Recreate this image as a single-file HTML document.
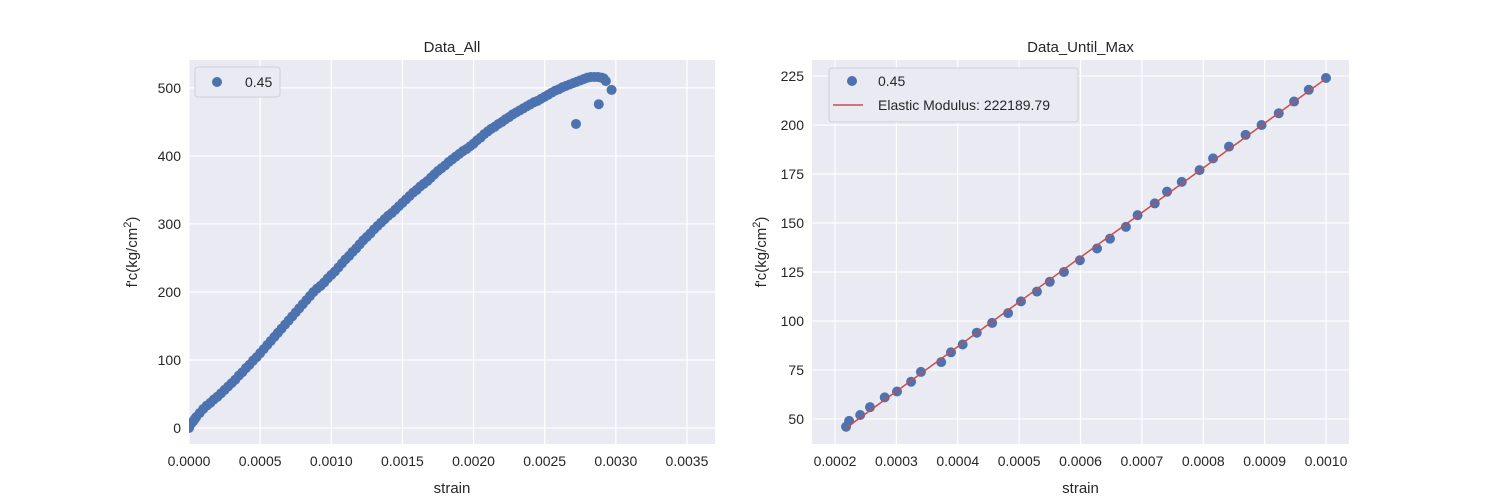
<!DOCTYPE html>
<html><head><meta charset="utf-8"><style>
body{margin:0;background:#fff;}
svg{display:block;font-family:"Liberation Sans","Noto Sans CJK TC",sans-serif;}
</style></head><body>
<svg id="fig" width="1500" height="500"></svg>
<script>
const allStrain=[0,0.00001,0.00002,0.00003,0.00004,0.00005,0.000075,0.0001,0.000125,0.00015,0.000175,0.0002,0.000225,0.00025,0.000275,0.0003,0.000325,0.00035,0.000375,0.0004,0.000425,0.00045,0.000475,0.0005,0.000525,0.00055,0.000575,0.0006,0.000625,0.00065,0.000675,0.0007,0.000725,0.00075,0.000775,0.0008,0.000825,0.00085,0.000875,0.0009,0.000925,0.00095,0.000975,0.001,0.001025,0.00105,0.001075,0.0011,0.001125,0.00115,0.001175,0.0012,0.001225,0.00125,0.001275,0.0013,0.001325,0.00135,0.001375,0.0014,0.001425,0.00145,0.001475,0.0015,0.001525,0.00155,0.001575,0.0016,0.001625,0.00165,0.001675,0.0017,0.001725,0.00175,0.001775,0.0018,0.001825,0.00185,0.001875,0.0019,0.001925,0.00195,0.001975,0.002,0.002025,0.00205,0.002075,0.0021,0.002125,0.00215,0.002175,0.0022,0.002225,0.00225,0.002275,0.0023,0.002325,0.00235,0.002375,0.0024,0.002425,0.00245,0.002475,0.0025,0.002525,0.00255,0.002575,0.0026,0.002625,0.00265,0.002675,0.0027,0.002725,0.00275,0.002775,0.0028,0.002825,0.00285,0.002875,0.0029,0.002915,0.00293,0.00297,0.00272,0.00288];
const allStress=[0,5,8,10,13,16,22,28,33,37,42,46,51,56,61,66,71,77,82,88,93,99,104,110,116,122,128,134,140,146,152,158,164,170,176,182,188,194,200,205,209,214,220,225,230,236,242,248,253,259,264,270,276,281,286,292,297,302,307,312,316,321,326,331,336,341,346,350,355,359,363,368,373,378,382,386,391,395,399,403,407,410,414,418,423,427,432,436,440,443,447,450,454,457,461,464,467,470,473,476,479,481,484,487,490,493,496,498,501,503,505,507,509,511,513,515,516,516,516,515,514,510,497,447,476];
const maxStrain=[0.000218,0.000223,0.000241,0.000257,0.000281,0.000301,0.000324,0.00034,0.000373,0.000389,0.000408,0.000431,0.000456,0.000482,0.000503,0.000529,0.00055,0.000573,0.000599,0.000627,0.000648,0.000674,0.000693,0.000721,0.000741,0.000765,0.000794,0.000816,0.000842,0.000869,0.000895,0.000923,0.000948,0.000972,0.001];
const maxStress=[46,49,52,56,61,64,69,74,79,84,88,94,99,104,110,115,120,125,131,137,142,148,154,160,166,171,177,183,189,195,200,206,212,218,224];
const leftXTicks=[0,0.0005,0.001,0.0015,0.002,0.0025,0.003,0.0035];
const leftYTicks=[0,100,200,300,400,500];
const rightXTicks=[0.0002,0.0003,0.0004,0.0005,0.0006,0.0007,0.0008,0.0009,0.001];
const rightYTicks=[50,75,100,125,150,175,200,225];
const modulusLabel="Elastic Modulus: 222189.79";

const NS="http://www.w3.org/2000/svg";
const svg=document.getElementById('fig');
function mk(tag,attrs,parent){const e=document.createElementNS(NS,tag);for(const k in attrs)e.setAttribute(k,attrs[k]);(parent||svg).appendChild(e);return e;}
function txt(s,attrs){const e=mk('text',attrs);e.textContent=s;return e;}

function panel(p){
  const sx=v=>p.x0+(v-p.xmin)/(p.xmax-p.xmin)*(p.x1-p.x0);
  const sy=v=>p.y1-(v-p.ymin)/(p.ymax-p.ymin)*(p.y1-p.y0);
  const bg=mk('rect',{x:p.x0,y:p.y0,width:p.x1-p.x0,height:p.y1-p.y0,fill:'#eaeaf2'});
  
  
  p.xt.forEach(t=>{
    const X=sx(t);
    const g=mk('line',{x1:X,x2:X,y1:p.y0,y2:p.y1,stroke:'#fff','stroke-width':1.2});
    
    
    const l=txt(p.xf(t),{x:X,y:p.y1+22,'text-anchor':'middle','font-size':14,fill:'#262626'});
    
    
  });
  p.yt.forEach(t=>{
    const Y=sy(t);
    const g=mk('line',{x1:p.x0,x2:p.x1,y1:Y,y2:Y,stroke:'#fff','stroke-width':1.2});
    
    
    const l=txt(String(t),{x:p.x0-8,y:Y+5,'text-anchor':'end','font-size':14,fill:'#262626'});
    
    
  });
  const ti=txt(p.title,{x:(p.x0+p.x1)/2,y:p.y0-8,'text-anchor':'middle','font-size':15,fill:'#262626'});
  
  
  const xl=txt('strain',{x:(p.x0+p.x1)/2,y:p.y1+49,'text-anchor':'middle','font-size':15,fill:'#262626'});
  
  
  const yc=(p.y0+p.y1)/2, yx=p.x0-p.ylOff;
  const yl=mk('text',{x:yx,y:yc,'text-anchor':'middle','font-size':15,fill:'#262626',transform:`rotate(-90 ${yx} ${yc})`});
  yl.innerHTML='f\'c(kg/cm<tspan dy="-6" font-size="11">2</tspan><tspan dy="6">)</tspan>';
  
  
  return {sx,sy};
}

const L=panel({name:'left',x0:189,x1:715,y0:60,y1:444,xmin:0,xmax:0.003697,ymin:-23.5,ymax:541,
  xt:leftXTicks,yt:leftYTicks,xf:t=>t.toFixed(4),title:'Data_All',ylOff:52});
const clipL=mk('clipPath',{id:'cl'});mk('rect',{x:189,y:60,width:526,height:384},clipL);
const gL=mk('g',{'clip-path':'url(#cl)'});
allStrain.forEach((s,i)=>{
  const c=mk('circle',{cx:L.sx(s),cy:L.sy(allStress[i]),r:5,fill:'#4c72b0'},gL);
  
  
});
const lg=mk('g',{});


mk('rect',{x:195,y:67,width:85,height:30,rx:3,fill:'#eaeaf2',stroke:'#d0d0d8'},lg);
mk('circle',{cx:217,cy:82,r:5,fill:'#4c72b0'},lg);
const lt=txt('0.45',{x:245,y:87,'font-size':14,fill:'#262626'});lg.appendChild(lt);

const R=panel({name:'right',x0:812,x1:1349,y0:60,y1:444,xmin:0.0001625,xmax:0.0010375,ymin:37.2,ymax:233.2,
  xt:rightXTicks,yt:rightYTicks,xf:t=>t.toFixed(4),title:'Data_Until_Max',ylOff:46});
maxStrain.forEach((s,i)=>{
  const c=mk('circle',{cx:R.sx(s),cy:R.sy(maxStress[i]),r:5,fill:'#4c72b0'});
  
  
});
const n=maxStrain.length;let mx=0,my=0;maxStrain.forEach((s,i)=>{mx+=s;my+=maxStress[i];});mx/=n;my/=n;
let num=0,den=0;maxStrain.forEach((s,i)=>{num+=(s-mx)*(maxStress[i]-my);den+=(s-mx)*(s-mx);});
const k=num/den,b=my-k*mx;
const x0=maxStrain[0],x1=maxStrain[n-1];
const fl=mk('line',{x1:R.sx(x0),y1:R.sy(k*x0+b),x2:R.sx(x1),y2:R.sy(k*x1+b),stroke:'#c44e52','stroke-width':1.5});


const rg=mk('g',{});


mk('rect',{x:829,y:68,width:249,height:54,rx:3,fill:'#eaeaf2',stroke:'#d0d0d8'},rg);
mk('circle',{cx:852,cy:81,r:5,fill:'#4c72b0'},rg);
rg.appendChild(txt('0.45',{x:878,y:86,'font-size':14,fill:'#262626'}));
mk('line',{x1:833,x2:863,y1:105,y2:105,stroke:'#c44e52','stroke-width':1.5},rg);
rg.appendChild(txt(modulusLabel,{x:878,y:110,'font-size':14,fill:'#262626'}));
</script>
</body></html>
